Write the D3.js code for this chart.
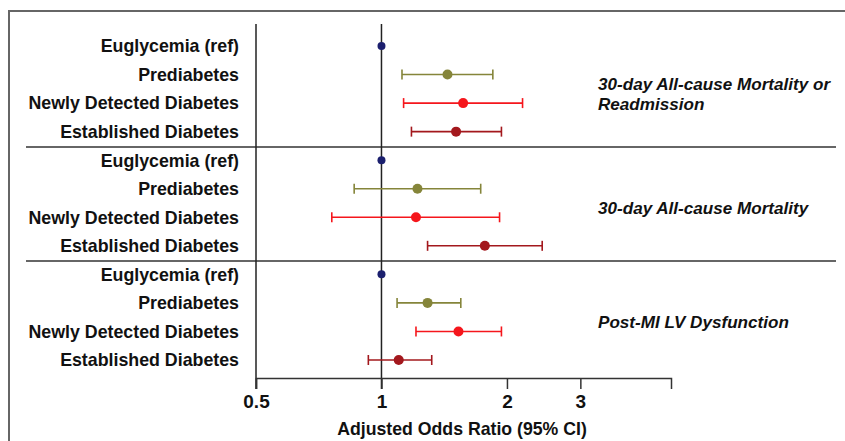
<!DOCTYPE html>
<html lang="en">
<head>
    <meta charset="UTF-8">
    <title>Adjusted Odds Ratio forest plot</title>
    <script src="https://cdnjs.cloudflare.com/ajax/libs/d3/7.9.0/d3.min.js"></script>
    <style>
        body { margin: 0; background: #fff; }
        svg text { font-family: "Liberation Sans", Arial, sans-serif; font-weight: bold; fill: #111; }
    </style>
</head>
<body>
    <svg id="chart" width="845" height="441"></svg>
    <script>
        // data
        const groups = ['Euglycemia (ref)', 'Prediabetes', 'Newly Detected Diabetes', 'Established Diabetes'];
        const outcomes = [
            ['30-day All-cause Mortality or', 'Readmission'],
            ['30-day All-cause Mortality'],
            ['Post-MI LV Dysfunction']
        ];
        // one value per group, per outcome
        const oddsRatio = [
            [1, 1.44, 1.57, 1.51],
            [1, 1.22, 1.21, 1.77],
            [1, 1.29, 1.53, 1.10]
        ];
        const ciLow = [
            [null, 1.12, 1.13, 1.18],
            [null, 0.86, 0.76, 1.29],
            [null, 1.09, 1.21, 0.93]
        ];
        const ciHigh = [
            [null, 1.85, 2.18, 1.94],
            [null, 1.73, 1.92, 2.43],
            [null, 1.55, 1.94, 1.32]
        ];
        const xTicks = [0.5, 1, 2, 3];
        const groupColors = ['#1b1f6e', '#85853a', '#f5161c', '#a3181d'];

        const svg = d3.select('#chart');

        // outer frame (top + left edges show)
        svg.append('path')
            .attr('d', 'M9,441 V11 H845')
            .attr('fill', 'none')
            .attr('stroke', '#666')
            .attr('stroke-width', 2);

        const rows = [];
        outcomes.forEach((o, i) => groups.forEach((g, j) => {
            rows.push({ id: i + '-' + j, outcome: i, group: j, label: g,
                or: oddsRatio[i][j], lo: ciLow[i][j], hi: ciHigh[i][j] });
        }));

        const x = d3.scaleLog().domain([0.5, 4.95]).range([256, 671]);
        const y = d3.scalePoint().domain(rows.map(d => d.id)).range([46, 360]);

        const plotTop = 24, axisY = 378, tickEnd = 389;

        // panel separators
        [3, 7].forEach(k => {
            const yy = (y(rows[k].id) + y(rows[k + 1].id)) / 2 + 1;
            svg.append('line')
                .attr('x1', 26).attr('x2', 836)
                .attr('y1', yy).attr('y2', yy)
                .attr('stroke', '#333').attr('stroke-width', 1.5);
        });

        // left frame line and reference line at 1
        svg.append('line')
            .attr('x1', x(0.5)).attr('x2', x(0.5))
            .attr('y1', plotTop).attr('y2', tickEnd)
            .attr('stroke', '#222').attr('stroke-width', 1.5);
        svg.append('line')
            .attr('x1', x(1)).attr('x2', x(1))
            .attr('y1', plotTop).attr('y2', tickEnd)
            .attr('stroke', '#222').attr('stroke-width', 1.5);

        // x axis
        const xAxis = svg.append('g')
            .attr('transform', `translate(0,${axisY})`)
            .call(d3.axisBottom(x).tickValues(xTicks).tickFormat(d3.format('')).tickSize(11).tickPadding(6));
        xAxis.select('.domain').attr('stroke', '#333').attr('stroke-width', 1.5);
        xAxis.selectAll('.tick line').attr('stroke', '#333').attr('stroke-width', 1.5);
        xAxis.selectAll('.tick text')
            .attr('font-size', 19)
            .attr('font-family', '"Liberation Sans", Arial, sans-serif')
            .attr('font-weight', 'bold')
            .attr('fill', '#111');

        svg.append('text')
            .attr('x', 462).attr('y', 435)
            .attr('text-anchor', 'middle')
            .attr('font-size', 17.7)
            .text('Adjusted Odds Ratio (95% CI)');

        // row labels
        svg.selectAll('.row-label')
            .data(rows)
            .enter().append('text')
            .attr('class', 'row-label')
            .attr('x', 239)
            .attr('y', d => y(d.id))
            .attr('dy', '0.36em')
            .attr('text-anchor', 'end')
            .attr('font-size', 17.8)
            .text(d => d.label);

        // confidence intervals
        const ci = rows.filter(d => d.lo != null);
        svg.selectAll('.ci')
            .data(ci)
            .enter().append('line')
            .attr('x1', d => x(d.lo)).attr('x2', d => x(d.hi))
            .attr('y1', d => y(d.id)).attr('y2', d => y(d.id))
            .attr('stroke', d => groupColors[d.group])
            .attr('stroke-width', 1.6);
        ['lo', 'hi'].forEach(k => {
            svg.selectAll('.cap-' + k)
                .data(ci)
                .enter().append('line')
                .attr('x1', d => x(d[k])).attr('x2', d => x(d[k]))
                .attr('y1', d => y(d.id) - 5).attr('y2', d => y(d.id) + 5)
                .attr('stroke', d => groupColors[d.group])
                .attr('stroke-width', 1.6);
        });

        // point estimates
        svg.selectAll('.pt')
            .data(rows)
            .enter().append('circle')
            .attr('cx', d => x(d.or))
            .attr('cy', d => y(d.id))
            .attr('r', d => d.group === 0 ? 4 : 5)
            .attr('fill', d => groupColors[d.group]);

        // outcome titles
        outcomes.forEach((lines, i) => {
            const mid = (y(i + '-1') + y(i + '-2')) / 2 + 5;
            const t = svg.append('text')
                .attr('x', 598)
                .attr('font-size', 17.1)
                .attr('font-style', 'italic');
            lines.forEach((s, k) => {
                t.append('tspan')
                    .attr('x', 598)
                    .attr('y', mid + (k - (lines.length - 1) / 2) * 19.5)
                    .attr('dy', '0.36em')
                    .text(s);
            });
        });
    </script>
</body>
</html>
